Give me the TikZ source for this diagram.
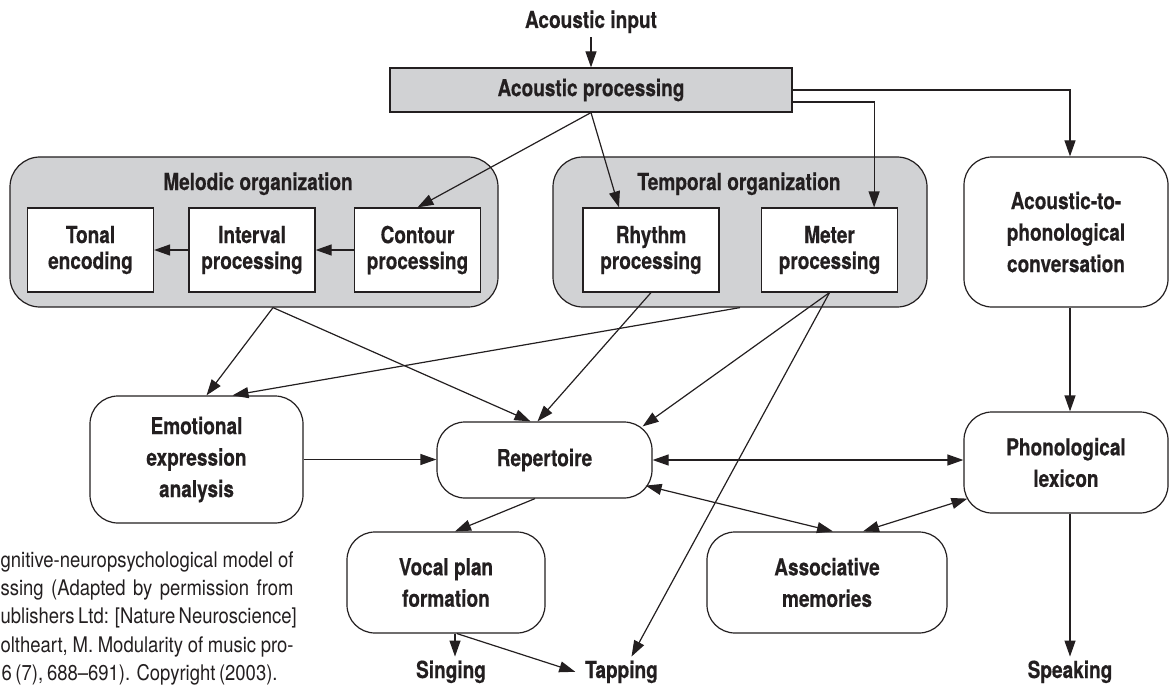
\documentclass[tikz,border=0pt]{standalone}
\usepackage{fontspec}
\setmainfont{TeX Gyre Heros}[FakeStretch=0.81,BoldFeatures={FakeBold=0.4}]
\newfontfamily\capfont{TeX Gyre Heros}[FakeStretch=0.86]
\usetikzlibrary{arrows.meta,calc}
\definecolor{ink}{HTML}{231F20}
\definecolor{panel}{HTML}{D1D2D4}

\begin{document}
\begin{tikzpicture}[x=1pt,y=1pt,->,>={Triangle[length=16pt,width=11pt]},
        color=ink,line width=1.2pt,
        font=\fontsize{23.5}{26}\selectfont\bfseries,
        proc/.style={draw,fill=panel,minimum width=402pt,minimum height=44pt},
        group/.style={draw,fill=panel,rounded corners=30pt},
        unit/.style={draw,fill=white,align=center,minimum width=126pt,minimum height=84pt},
        module/.style={draw,fill=white,rounded corners=28pt,align=center,
          font=\fontsize{23.5}{31.5}\selectfont\bfseries},
        word/.style={anchor=base},
        captext/.style={anchor=base west,inner sep=0pt,
          font=\capfont\fontsize{21.5}{28.5}\selectfont}]

  \useasboundingbox (0,0) rectangle (1174,-687);

  % input stage
  \node[word] (ain) at (591,-28) {Acoustic input};
  \node[proc] (ap) at (591,-90) {Acoustic processing};

  % melodic organization
  \node[group,minimum width=488pt,minimum height=150pt] (mel) at (254,-232) {};
  \node[word] (meltitle) at (258,-190) {Melodic organization};
  \node[unit] (tonal) at (90.5,-250) {Tonal\\encoding};
  \node[unit] (interval) at (252,-250) {Interval\\processing};
  \node[unit] (contour) at (417.5,-250) {Contour\\processing};

  % temporal organization
  \node[group,minimum width=374pt,minimum height=150pt] (temp) at (740,-232) {};
  \node[word] (temptitle) at (739,-190) {Temporal organization};
  \node[unit,minimum width=136pt] (rhythm) at (651,-250) {Rhythm\\processing};
  \node[unit,minimum width=136pt] (meter) at (829.5,-250) {Meter\\processing};

  % other modules
  \node[module,minimum width=204pt,minimum height=150pt] (a2p) at (1066,-232)
    {Acoustic-to-\\phonological\\conversation};
  \node[module,minimum width=213pt,minimum height=127pt] (emo) at (196.5,-459.5)
    {Emotional\\expression\\analysis};
  \node[module,minimum width=215pt,minimum height=76pt] (rep) at (544.5,-460) {Repertoire};
  \node[module,minimum width=204pt,minimum height=101pt] (phon) at (1066,-462.5)
    {Phonological\\lexicon};
  \node[module,minimum width=198pt,minimum height=101pt] (vocal) at (446,-582.5)
    {Vocal plan\\formation};
  \node[module,minimum width=240pt,minimum height=101pt] (assoc) at (827,-582.5)
    {Associative\\memories};

  % outputs
  \node[word] (sing) at (451,-678) {Singing};
  \node[word] (tap) at (621.5,-678) {Tapping};
  \node[word] (speak) at (1070,-678) {Speaking};

  % caption
  \node[captext] (cap1) at (0,-567) {\makebox[293pt][s]{gnitive-neuropsychological model of}};
  \node[captext] (cap2) at (0,-595) {\makebox[293pt][s]{ssing (Adapted by permission from}};
  \node[captext] (cap3) at (0,-623) {\makebox[293pt][s]{ublishers Ltd: [Nature Neuroscience]}};
  \node[captext] (cap4) at (0,-652) {\makebox[293pt][s]{oltheart, M. Modularity of music pro-}};
  \node[captext] (cap5) at (1,-680) {\makebox[276pt][s]{6 (7), 688\textendash691). Copyright (2003).}};

  % connections
  \draw (ain) -- (ap);
  \draw (ap.east) -| ([xshift=4pt]a2p.north);
  \draw ([yshift=-12pt]ap.east) -| ([xshift=-24pt]meter.north east);
  \draw (ap.south) -- (contour.north);
  \draw (ap.south) -- ([xshift=-32pt]rhythm.north);
  \draw (contour) -- (interval);
  \draw (interval) -- (tonal);
  \draw ([xshift=19pt]mel.south) -- ([xshift=10pt]emo.north);
  \draw ([xshift=19pt]mel.south) -- ([xshift=-14pt]rep.north);
  \draw (temp.south) -- ([xshift=36pt]emo.north);
  \draw (rhythm.south) -- ([xshift=-7pt]rep.north);
  \draw (meter.south) -- ($(rep.north east)+(-10pt,-5pt)$);
  \draw (meter.south) -- ([xshift=10pt]tap.north);
  \draw (emo.east) -- (emo.east -| rep.west);
  \draw[<->] (rep.east) -- (rep.east -| phon.west);
  \draw[<->] ($(rep.south east)+(-7pt,13pt)$) -- ([xshift=6pt]assoc.north);
  \draw[<->] ([xshift=36pt]assoc.north) -- ($(phon.south west)+(4pt,15pt)$);
  \draw ([xshift=4pt]a2p.south) -- ([xshift=4pt]phon.north);
  \draw ([xshift=4pt]phon.south) -- ([xshift=4pt]phon.south |- speak.north);
  \draw ([xshift=-9.5pt]rep.south) -- ([xshift=9pt]vocal.north);
  \draw ([xshift=9pt]vocal.south) -- ([xshift=4pt]sing.north);
  \draw ([xshift=11pt]vocal.south) -- ([xshift=-6pt]tap.west);

\end{tikzpicture}
\end{document}
